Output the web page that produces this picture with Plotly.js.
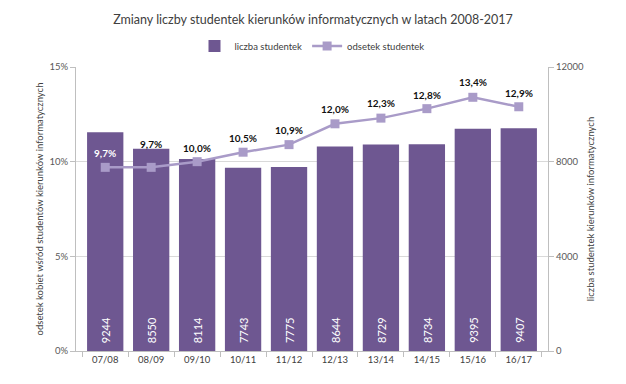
<!DOCTYPE html>
<html>
<head>
<meta charset="utf-8">
<script src="https://cdn.plot.ly/plotly-3.0.1.min.js"></script>
<style>html,body{margin:0;padding:0;background:#fff;}#chart{width:626px;height:384px;}</style>
</head>
<body>
<div id="chart"></div>
<script>
const categories = ["07/08","08/09","09/10","10/11","11/12","12/13","13/14","14/15","15/16","16/17"];
const studentCounts = [9244, 8550, 8114, 7743, 7775, 8644, 8729, 8734, 9395, 9407];
const femaleShare = [0.097, 0.097, 0.100, 0.105, 0.109, 0.120, 0.123, 0.128, 0.134, 0.129];
const seriesNames = ["liczba studentek", "odsetek studentek"];
const chartTitle = "Zmiany liczby studentek kierunków informatycznych w latach 2008-2017";
const leftAxisTitle = "odsetek kobiet wśród studentów kierunków informatycznych";
const rightAxisTitle = "liczba studentek kierunków informatycznych";

const FONT = "Lato, 'Open Sans', sans-serif";
const barColor = "#6E5791";
const lineColor = "#A99BC8";
// label lift (px) above each line point, as placed in the original
const labelLift = [14, 23, 14, 14, 15, 15, 15, 14, 15, 14];

const bars = {
  type: "bar",
  name: seriesNames[0],
  x: categories,
  y: studentCounts,
  yaxis: "y",
  marker: {color: barColor},
  textposition: "none",
  hoverinfo: "x+y"
};

const line = {
  type: "scatter",
  mode: "lines+markers",
  name: seriesNames[1],
  x: categories,
  y: femaleShare,
  yaxis: "y2",
  line: {color: lineColor, width: 2.5},
  marker: {symbol: "square", size: 9, color: lineColor},
  cliponaxis: false
};

const fmtPct = v => (v * 100).toFixed(1).replace(".", ",") + "%";

const barLabels = categories.map((c, i) => ({
  xref: "x", yref: "y", x: c, y: 0,
  text: String(studentCounts[i]),
  textangle: -90, showarrow: false,
  xanchor: "center", yanchor: "bottom", yshift: 6,
  font: {family: FONT, size: 11, color: "#ffffff"}
}));

const lineLabels = categories.map((c, i) => ({
  xref: "x", yref: "y2", x: c, y: femaleShare[i],
  text: "<b>" + fmtPct(femaleShare[i]) + "</b>",
  showarrow: false, xanchor: "center", yanchor: "middle", yshift: labelLift[i],
  font: {family: FONT, size: 10, color: i === 0 ? "#ffffff" : "#111111"}
}));

const layout = {
  width: 626,
  height: 384,
  margin: {l: 76, r: 78, t: 67, b: 33},
  paper_bgcolor: "#ffffff",
  plot_bgcolor: "#ffffff",
  separators: ", ",
  font: {family: FONT, size: 10, color: "#595959"},
  title: {text: chartTitle, x: 0.5, xanchor: "center", y: 0.948, yanchor: "middle",
          font: {family: FONT, size: 12.5, color: "#404040"}},
  showlegend: true,
  legend: {orientation: "h", x: 0.5, xanchor: "center", y: 1.074, yanchor: "middle",
           font: {family: FONT, size: 9.5, color: "#404040"}, traceorder: "normal"},
  bargap: 0.21,
  annotations: barLabels.concat(lineLabels),
  xaxis: {
    type: "category",
    showline: true, linecolor: "#BFBFBF", linewidth: 1,
    ticks: "outside", tickson: "boundaries", ticklen: 5, tickcolor: "#BFBFBF",
    tickfont: {family: FONT, size: 9.5, color: "#404040"},
    showgrid: false, zeroline: false, fixedrange: true
  },
  yaxis: {
    side: "right",
    range: [0, 12000],
    dtick: 4000,
    tickformat: "d",
    showline: true, linecolor: "#BFBFBF", linewidth: 1,
    ticks: "outside", ticklen: 5, tickcolor: "#BFBFBF",
    showgrid: true, gridcolor: "#D9D9D9", gridwidth: 1,
    zeroline: false,
    tickfont: {family: FONT, size: 9.5, color: "#595959"},
    title: {text: rightAxisTitle, standoff: 4, font: {family: FONT, size: 9.5, color: "#404040"}}
  },
  yaxis2: {
    overlaying: "y",
    side: "left",
    range: [0, 0.15],
    dtick: 0.05,
    tickformat: ".0%",
    showline: true, linecolor: "#BFBFBF", linewidth: 1,
    ticks: "outside", ticklen: 5, tickcolor: "#BFBFBF",
    showgrid: false, zeroline: false,
    tickfont: {family: FONT, size: 9.5, color: "#595959"},
    title: {text: leftAxisTitle, standoff: 4, font: {family: FONT, size: 9.5, color: "#404040"}}
  }
};

Plotly.newPlot("chart", [bars, line], layout, {displayModeBar: false});
</script>
</body>
</html>
